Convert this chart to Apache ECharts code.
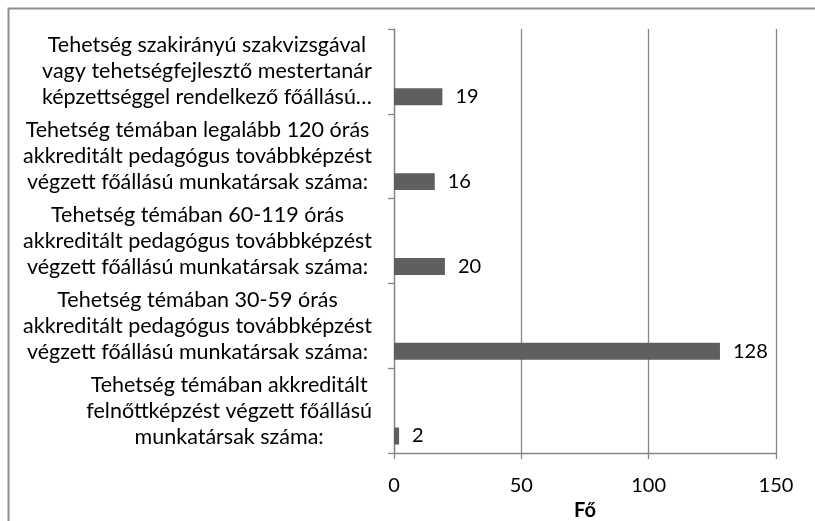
<!DOCTYPE html>
<html>
<head>
<meta charset="utf-8">
<script src="https://cdn.jsdelivr.net/npm/echarts@6/dist/echarts.min.js"></script>
<style>
html, body { margin: 0; padding: 0; background: #fff; }
#main { width: 815px; height: 521px; }
</style>
</head>
<body>
<div id="main"></div>
<script>
// categories top to bottom, line breaks as in the original labels
var categories = [
    "Tehetség szakirányú szakvizsgával\nvagy tehetségfejlesztő mestertanár\nképzettséggel rendelkező főállású…",
    "Tehetség témában legalább 120 órás\nakkreditált pedagógus továbbképzést\nvégzett főállású munkatársak száma:",
    "Tehetség témában 60-119 órás\nakkreditált pedagógus továbbképzést\nvégzett főállású munkatársak száma:",
    "Tehetség témában 30-59 órás\nakkreditált pedagógus továbbképzést\nvégzett főállású munkatársak száma:",
    "Tehetség témában akkreditált\nfelnőttképzést végzett főállású\nmunkatársak száma:"
];
var values = [19, 16, 20, 128, 2];
var xTicks = [0, 50, 100, 150];
var axisTitle = "Fő";

var font = "Lato, 'Open Sans', sans-serif";
var gridColor = "#878787";

// the original has three empty series in front, which pushes the bar to the bottom of each band
function empty() {
    return {
        type: "bar",
        data: categories.map(function () { return "-"; }),
        barGap: "0%",
        barCategoryGap: "20%",
        silent: true
    };
}

var option = {
    animation: false,
    textStyle: { fontFamily: font },
    graphic: [{
        type: "rect",
        shape: { x: 8.5, y: 8.5, width: 900, height: 600 },
        style: { fill: null, stroke: "#8f8f8f", lineWidth: 2 },
        silent: true
    }],
    grid: { left: 394, right: 39, top: 29, bottom: 68, containLabel: false, outerBoundsMode: "none" },
    xAxis: {
        type: "value",
        min: xTicks[0],
        max: xTicks[xTicks.length - 1],
        interval: xTicks[1] - xTicks[0],
        name: axisTitle,
        nameLocation: "middle",
        nameGap: 46,
        nameTextStyle: { fontFamily: font, fontSize: 20, fontWeight: "bold", color: "#000" },
        axisLine: { show: true, lineStyle: { color: gridColor, width: 1.3 } },
        axisTick: { show: true, length: 6, lineStyle: { color: gridColor, width: 1.3 } },
        axisLabel: { margin: 23, fontSize: 20, color: "#000", fontFamily: font },
        splitLine: { show: true, lineStyle: { color: gridColor, width: 1.3 } }
    },
    yAxis: {
        type: "category",
        inverse: true,
        data: categories,
        axisLine: { show: true, lineStyle: { color: gridColor, width: 1.3 } },
        axisTick: { show: true, length: 6, lineStyle: { color: gridColor, width: 1.3 } },
        splitLine: { show: false },
        axisLabel: {
            align: "right",
            margin: 22,
            formatter: function (v) {
                return v.split("\n").map(function (s) { return "{c|" + s + "}"; }).join("\n");
            },
            rich: {
                c: { align: "center", fontSize: 21.5, lineHeight: 26, color: "#000", fontFamily: font }
            }
        }
    },
    series: [empty(), empty(), empty(), {
        name: axisTitle,
        type: "bar",
        data: values,
        barGap: "0%",
        barCategoryGap: "20%",
        itemStyle: { color: "#5f5f5f" },
        label: {
            show: true,
            position: "right",
            distance: 13,
            fontSize: 20,
            color: "#000",
            fontFamily: font
        }
    }]
};

echarts.init(document.getElementById("main")).setOption(option);
</script>
</body>
</html>
